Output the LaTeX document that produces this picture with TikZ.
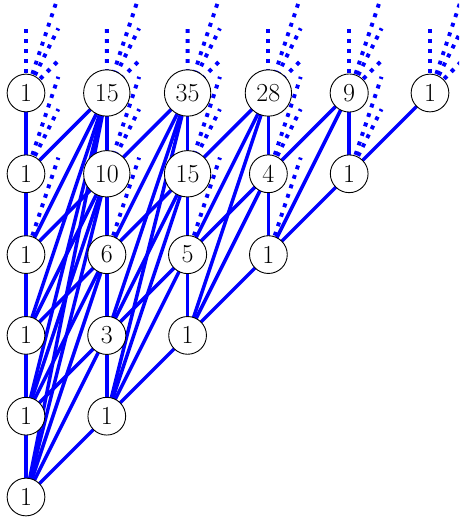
\documentclass[tikz,border=0pt]{standalone}
\usetikzlibrary{calc,backgrounds}
\tikzset{
  num/.style={circle, draw=black, line width=0.9pt, fill=white, inner sep=6pt,
    font=\fontsize{26}{30}\selectfont},
  solidedge/.style={blue, line width=3.5pt},
  dotedge/.style={blue, line width=3.9pt, dash pattern=on 3.9pt off 6.1pt},
}
\begin{document}
\begin{tikzpicture}[x=1pt,y=1pt]
\useasboundingbox (-26,-25) rectangle (433,497);
% nodes
\node[num] (n00) at (0,0) {1};
\node[num] (n10) at (0,80.8) {1};
\node[num] (n11) at (80.8,80.8) {1};
\node[num] (n20) at (0,161.6) {1};
\node[num] (n21) at (80.8,161.6) {3};
\node[num] (n22) at (161.6,161.6) {1};
\node[num] (n30) at (0,242.4) {1};
\node[num] (n31) at (80.8,242.4) {6};
\node[num] (n32) at (161.6,242.4) {5};
\node[num] (n33) at (242.4,242.4) {1};
\node[num] (n40) at (0,323.2) {1};
\node[num] (n41) at (80.8,323.2) {10};
\node[num] (n42) at (161.6,323.2) {15};
\node[num] (n43) at (242.4,323.2) {4};
\node[num] (n44) at (323.2,323.2) {1};
\node[num] (n50) at (0,404) {1};
\node[num] (n51) at (80.8,404) {15};
\node[num] (n52) at (161.6,404) {35};
\node[num] (n53) at (242.4,404) {28};
\node[num] (n54) at (323.2,404) {9};
\node[num] (n55) at (404,404) {1};
% ghost positions above the picture
\foreach \r in {6,7,8}{
  \foreach \c in {0,...,6}{
    \coordinate (g\r\c) at (\c*80.8,\r*80.8);
  }
}
\begin{scope}[on background layer]
  \clip (-26,-25) rectangle (433,497);
  % solid edges
  \foreach \r in {0,...,4}{
    \foreach \c in {0,...,\r}{
      \pgfmathtruncatemacro\rn{\r+1}
      \pgfmathtruncatemacro\cn{\c+1}
      \draw[solidedge] (n\r\c.center) -- (n\rn\c.center);
      \foreach \t in {\rn,...,5}{
        \draw[solidedge] (n\r\c.center) -- (n\t\cn.center);
      }
    }
  }
  % dotted edges leaving the picture
  \foreach \r in {3,4,5}{
    \pgfmathtruncatemacro\kmin{6-\r}
    \foreach \c in {0,...,\r}{
      \pgfmathtruncatemacro\cn{\c+1}
      \foreach \k in {\kmin,...,3}{
        \pgfmathtruncatemacro\t{\r+\k}
        \draw[dotedge] (n\r\c.center) -- ($(n\r\c.center)!0.4!(g\t\cn)$);
      }
    }
  }
  \foreach \c in {0,...,5}{
    \draw[dotedge] (n5\c.center) -- ($(n5\c.center)!0.8!(g6\c)$);
  }
\end{scope}
\end{tikzpicture}
\end{document}
